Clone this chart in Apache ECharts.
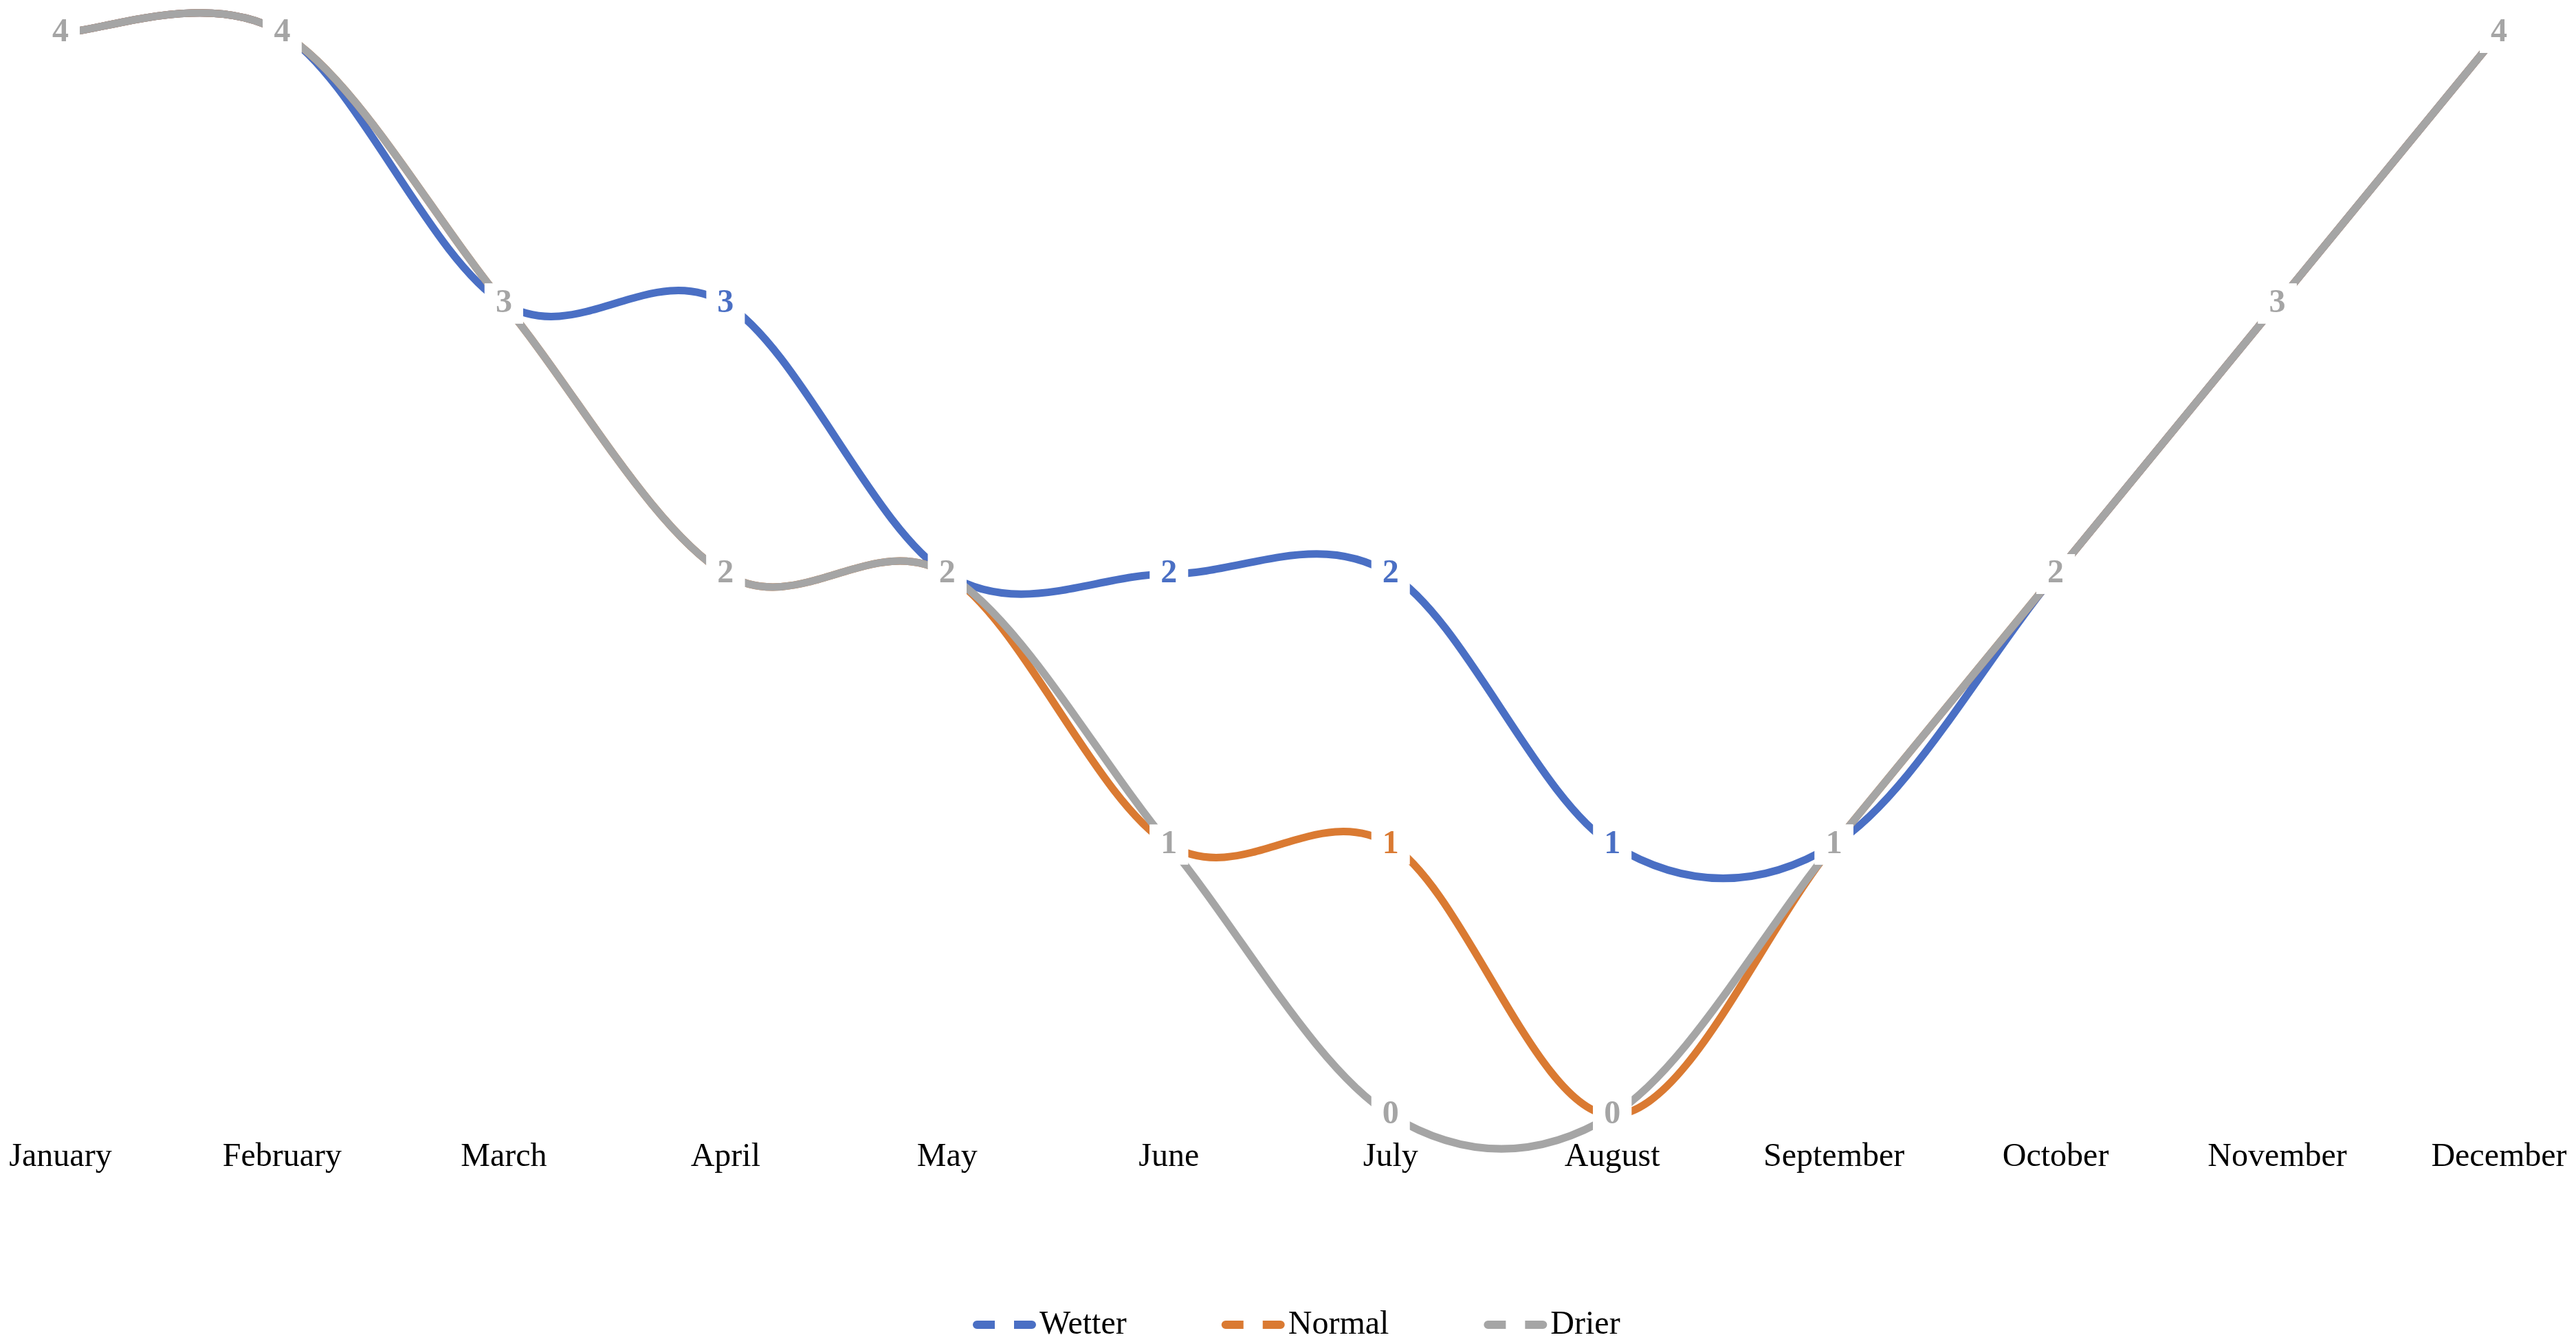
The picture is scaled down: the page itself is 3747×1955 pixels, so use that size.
<!DOCTYPE html>
<html>
<head>
<meta charset="UTF-8">
<title>Wetter / Normal / Drier</title>
<script src="https://cdn.jsdelivr.net/npm/echarts@6/dist/echarts.min.js"></script>
<style>
  html, body { margin: 0; padding: 0; background: #fff; }
  #chart { width: 3747px; height: 1955px; }
</style>
</head>
<body>
<div id="chart"></div>
<script>
// months on the x axis
const months = ['January', 'February', 'March', 'April', 'May', 'June',
  'July', 'August', 'September', 'October', 'November', 'December'];

// values per scenario
const wetter = [4, 4, 3, 3, 2, 2, 2, 1, 1, 2, 3, 4];
const normal = [4, 4, 3, 2, 2, 1, 1, 0, 1, 2, 3, 4];
const drier = [4, 4, 3, 2, 2, 1, 0, 0, 1, 2, 3, 4];

const seriesNames = ['Wetter', 'Normal', 'Drier'];
const seriesValues = [wetter, normal, drier];
const colors = ['#4A6FC4', '#DA7A32', '#A5A5A5'];

const serif = '"Liberation Serif", "Times New Roman", serif';

// legend icon: two short rounded dashes
const dashIcon = 'path://M6,0H32V12H6A6,6 0 0 1 6,0Z M60,0H86A6,6 0 0 1 86,12H60Z';

// office-style smoothed curve: one bezier per segment, controls from neighbours (1/6)
function curveSeries(name, values, color) {
  const n = values.length;
  return {
    name: name,
    type: 'custom',
    silent: true,
    itemStyle: { color: color },
    encode: { x: 0, y: 1 },
    data: values.map((v, i) => [i, v]),
    renderItem: function (params, api) {
      const i = params.dataIndex;
      if (i >= n - 1) {
        return null;
      }
      const a = Math.max(i - 1, 0);
      const d = Math.min(i + 2, n - 1);
      const p0 = api.coord([a, values[a]]);
      const p1 = api.coord([i, values[i]]);
      const p2 = api.coord([i + 1, values[i + 1]]);
      const p3 = api.coord([d, values[d]]);
      return {
        type: 'bezierCurve',
        shape: {
          x1: p1[0], y1: p1[1],
          x2: p2[0], y2: p2[1],
          cpx1: p1[0] + (p2[0] - p0[0]) / 6,
          cpy1: p1[1] + (p2[1] - p0[1]) / 6,
          cpx2: p2[0] - (p3[0] - p1[0]) / 6,
          cpy2: p2[1] - (p3[1] - p1[1]) / 6
        },
        style: { stroke: color, fill: null, lineWidth: 11, lineCap: 'round' }
      };
    },
    animation: false
  };
}

// line with no visible stroke, only carries the data labels
function labelSeries(name, values, color) {
  return {
    name: name,
    type: 'line',
    data: values,
    symbol: 'circle',
    symbolSize: 1,
    showSymbol: true,
    itemStyle: { color: color },
    lineStyle: { width: 0, opacity: 0 },
    label: {
      show: true,
      position: 'inside',
      color: color,
      fontFamily: serif,
      fontWeight: 'bold',
      fontSize: 48,
      lineHeight: 50,
      backgroundColor: '#fff',
      padding: [4, 16]
    },
    emphasis: { disabled: true },
    animation: false
  };
}

const series = [];
seriesNames.forEach((name, k) => series.push(curveSeries(name, seriesValues[k], colors[k])));
seriesNames.forEach((name, k) => series.push(labelSeries(name, seriesValues[k], colors[k])));

const chart = echarts.init(document.getElementById('chart'));

chart.setOption({
  backgroundColor: '#fff',
  color: colors,
  grid: { left: 88, right: 112, top: 48, bottom: 333, containLabel: false },
  xAxis: {
    type: 'category',
    data: months,
    boundaryGap: false,
    axisLine: { show: false },
    axisTick: { show: false },
    splitLine: { show: false },
    axisLabel: {
      color: '#000',
      fontFamily: serif,
      fontSize: 48,
      margin: 37,
      interval: 0
    }
  },
  yAxis: {
    type: 'value',
    min: 0,
    max: 4,
    interval: 1,
    show: false
  },
  legend: {
    top: 1898,
    left: 1410,
    icon: dashIcon,
    itemWidth: 92,
    itemHeight: 12,
    itemGap: 138,
    textStyle: { color: '#000', fontFamily: serif, fontSize: 48 },
    data: seriesNames
  },
  series: series
});
</script>
</body>
</html>
